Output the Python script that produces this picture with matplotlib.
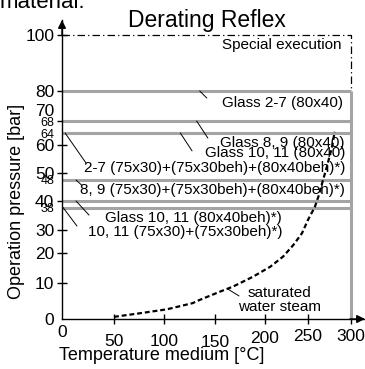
import numpy as np
import matplotlib
matplotlib.use("Agg")
import matplotlib.pyplot as plt

plt.rcParams['font.family'] = ['Liberation Sans', 'DejaVu Sans']

# Saturated water steam curve (temperature in degC, pressure in bar)
steam_temp = [50, 76, 103, 128, 135, 155, 168, 188, 206, 221, 233, 243, 250, 258, 262, 266, 272, 278, 281]
steam_pres = [0.6, 1.6, 2.7, 4.4, 5.3, 7.6, 9.0, 12.1, 15.4, 18.8, 23.5, 28.6, 33.6, 38.2, 41.6, 46.3,
              52.3, 59.4, 64.4]

# Pressure limits of the gauge glass variants
glass_limits = [80, 68, 64, 48, 40, 38]
special_limit = 100
max_temp = 300

x_ticks = [0, 50, 100, 150, 200, 250, 300]
y_ticks = [0, 10, 20, 30, 38, 40, 48, 50, 60, 64, 68, 70, 80, 100]
y_small = [38, 48, 64, 68]
y_no_tick = [0, 38, 48, 64, 70]

# the drawing uses a stretched, non-linear axis grid
t_knots = [0, 50, 100, 150, 200, 250, 300, 317]
t_span = [0, 52, 102, 153, 203, 246, 289, 303]
p_knots = [0, 10, 20, 30, 38, 40, 48, 50, 60, 64, 68, 70, 80, 100, 105]
p_span = [0, 36, 66, 89, 111.5, 118, 139, 146, 174, 186, 198, 209, 228, 284, 299]


def t_fwd(v):
    return np.interp(v, t_knots, t_span)


def t_inv(v):
    return np.interp(v, t_span, t_knots)


def p_fwd(v):
    return np.interp(v, p_knots, p_span)


def p_inv(v):
    return np.interp(v, p_span, p_knots)


W, H = 365, 369
fig = plt.figure(figsize=(W / 100, H / 100), dpi=100)
ax = fig.add_axes([62 / W, 50 / H, 303 / W, 299 / H])
ax.set_xscale('function', functions=(t_fwd, t_inv))
ax.set_yscale('function', functions=(p_fwd, p_inv))
ax.set_xlim(0, 317)
ax.set_ylim(0, 105)

for s in ['top', 'right']:
    ax.spines[s].set_visible(False)
for s in ['left', 'bottom']:
    ax.spines[s].set_linewidth(1.0)
    ax.spines[s].set_zorder(5)

# arrow heads on the axes
ax.annotate('', xy=(1, 0), xytext=(0.95, 0), xycoords='axes fraction',
            arrowprops=dict(arrowstyle='-|>', color='k', lw=1, mutation_scale=12,
                            shrinkA=0, shrinkB=0))
ax.annotate('', xy=(0, 1), xytext=(0, 0.95), xycoords='axes fraction',
            arrowprops=dict(arrowstyle='-|>', color='k', lw=1, mutation_scale=12,
                            shrinkA=0, shrinkB=0))

# limit lines
gray = '#a4a4a4'
ax.hlines(glass_limits, 0, max_temp, color=gray, lw=2.2, zorder=2)
ax.vlines(max_temp, 0, max(glass_limits), color=gray, lw=2.2, zorder=2)
ax.plot([0, max_temp, max_temp], [special_limit, special_limit, max(glass_limits)],
        color='k', lw=0.9, ls=(0, (6, 2.5, 1, 2.5)), zorder=3)

# steam curve
ax.plot(steam_temp, steam_pres, color='k', lw=1.6, ls=(0, (2.2, 1.3)), zorder=4)

# ticks
ax.set_xticks(x_ticks)
ax.set_xticklabels([str(v) for v in x_ticks])
ax.set_yticks(y_ticks)
ax.set_yticklabels([str(v) for v in y_ticks])
ax.tick_params(direction='inout', length=7, width=1, labelsize=12.5, pad=2)
ax.minorticks_off()
for t, v in zip(ax.yaxis.get_major_ticks(), y_ticks):
    if v in y_small:
        t.label1.set_fontsize(9)
    if v in y_no_tick:
        t.tick1line.set_visible(False)
x_pads = {0: 1, 50: 7, 100: 7, 150: 8, 200: 5, 250: 4, 300: 4}
for t, v in zip(ax.xaxis.get_major_ticks(), x_ticks):
    t.set_pad(x_pads[v])
    if v == 0:
        t.tick1line.set_visible(False)

# labels of the regions
fs = 11
ax.text(289.5, 96.4, 'Special execution', ha='right', va='center', fontsize=fs)
ax.text(290.7, 73.7, 'Glass 2-7 (80x40)', ha='right', va='center', fontsize=fs)
ax.text(293, 60.8, 'Glass 8, 9 (80x40)', ha='right', va='center', fontsize=fs)
ax.text(293, 57.1, 'Glass 10, 11 (80x40)', ha='right', va='center', fontsize=fs)
ax.text(293, 51.8, '2-7 (75x30)+(75x30beh)+(80x40beh)*)', ha='right', va='center', fontsize=fs)
ax.text(293, 44.2, '8, 9 (75x30)+(75x30beh)+(80x40beh)*)', ha='right', va='center', fontsize=fs)
ax.text(219.8, 34.3, 'Glass 10, 11 (80x40beh)*)', ha='right', va='center', fontsize=fs)
ax.text(219.8, 29.1, '10, 11 (75x30)+(75x30beh)*)', ha='right', va='center', fontsize=fs)
ax.text(216.3, 5.4, 'saturated\nwater steam', ha='center', va='center', fontsize=fs,
        linespacing=1.0)

# leader lines
leaders = [((135, 80), (142, 76.3)),
           ((132, 68), (143, 62.3)),
           ((116, 64), (127.5, 57.9)),
           ((3, 64), (23, 53.6)),
           ((13.5, 48), (19, 46)),
           ((13.5, 40), (26, 35.3)),
           ((1, 38), (14.4, 31.4)),
           ((163, 8.3), (174, 6.4))]
for a, b in leaders:
    ax.annotate('', xy=a, xytext=b,
                arrowprops=dict(arrowstyle='-', color='k', lw=0.7, shrinkA=0, shrinkB=0))

fig.text(207 / W, 1 - 20 / H, 'Derating Reflex', ha='center', va='center', fontsize=16.5)
fig.text(17 / W, 1 - 201 / H, 'Operation pressure [bar]', ha='center', va='center',
         rotation=90, fontsize=13)
fig.text(162 / W, 1 - 355 / H, 'Temperature medium [°C]', ha='center', va='center', fontsize=13)
fig.text(0, 1 - 8 / H, 'material.', ha='left', va='baseline', fontsize=16)

fig.savefig('out.png', dpi=100)
